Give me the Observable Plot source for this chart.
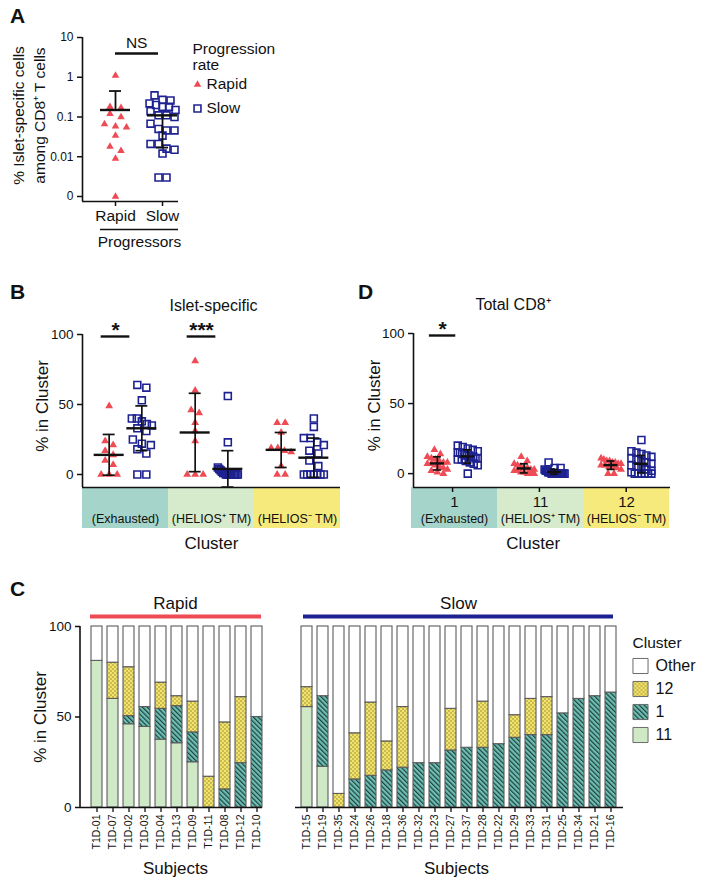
<!DOCTYPE html>
<html>
<head>
<meta charset="utf-8">
<script src="https://cdn.jsdelivr.net/npm/d3@7"></script>
<script src="https://cdn.jsdelivr.net/npm/@observablehq/plot@0.6"></script>
<style>
html,body{margin:0;padding:0;background:#fff;}
#root{position:relative;width:703px;height:886px;overflow:hidden;background:#fff;font-family:"Liberation Sans",Arial,Helvetica,sans-serif;color:#111;}
.plbl{position:absolute;font-weight:bold;font-size:21px;line-height:1;font-family:"Liberation Sans",Arial,sans-serif;}
</style>
</head>
<body>
<svg width="0" height="0" style="position:absolute">
<defs>
<pattern id="pat1" patternUnits="userSpaceOnUse" width="3.4" height="3.4" patternTransform="rotate(-45)">
<rect width="3.4" height="3.4" fill="#6dbfb3"/>
<rect x="0" y="0" width="1.2" height="3.4" fill="#1f403c"/>
</pattern>
<pattern id="pat12" patternUnits="userSpaceOnUse" width="4" height="4">
<rect width="4" height="4" fill="#f3e366"/>
<circle cx="1" cy="1" r="0.75" fill="#857a3a"/>
<circle cx="3" cy="3" r="0.75" fill="#857a3a"/>
</pattern>
</defs>
</svg>
<div id="root">
<div class="plbl" style="left:10px;top:5px">A</div>
<div class="plbl" style="left:10px;top:281px">B</div>
<div class="plbl" style="left:358px;top:281px">D</div>
<div class="plbl" style="left:10px;top:578px">C</div>
</div>
<script>
// ================= DATA =================
// Panel A
const groupsA = ["Rapid", "Slow"];
const aRapid = [1.1, 0.17, 0.18, 0.12, 0.1, 0.066, 0.058, 0.055, 0.034, 0.018, 0.014, 0.009, 0];
const aSlow = [0.35, 0.27, 0.26, 0.22, 0.2, 0.18, 0.18, 0.15, 0.14, 0.11, 0.11, 0.1, 0.068, 0.05, 0.046, 0.046, 0.034, 0.021, 0.021, 0.016, 0.015, 0.012, 0.003, 0.003];
const aMean = [0.15, 0.11];
const aUpper = [0.45, null];
const aLower = [null, 0.017];
const aTickValues = [10, 1, 0.1, 0.01, 0];
const aTickLabels = ["10", "1", "0.1", "0.01", "0"];

// Panels B and D
const clusters = ["1", "11", "12"];
const clusterNames = ["(Exhausted)", "(HELIOS\u207A TM)", "(HELIOS\u207B TM)"];
const clusterBand = ["#a5d5ca", "#d5ebcb", "#f7ea7c"];

const bRapid = [[49, 24, 21, 17, 14, 10, 7, 0, 0, 0], [81, 60, 46, 44, 37, 31, 24, 0, 0, 0], [37, 37, 30, 19, 19, 17, 16, 6, 0, 0]];
const bSlow = [[64, 62, 53, 40, 40, 38, 36, 35, 33, 31, 25, 22, 21, 18, 15, 0, 0], [56, 23, 5, 4, 3, 2, 1, 1, 0, 0, 0, 0, 0, 0, 0, 0, 0, 0], [40, 34, 26, 26, 23, 21, 17, 15, 10, 6, 0, 0, 0, 0, 0, 0, 0]];
const bRapidMean = [14, 30, 17.6], bRapidUpper = [28.6, 58, 30], bRapidLower = [-0.5, 2, 5];
const bSlowMean = [33, 4, 12], bSlowUpper = [49, 17, 26], bSlowLower = [17, -9, -2];
const bSigClusters = [0, 1], bSigLabels = ["*", "***"];

const dRapid = [[17, 14, 12, 11, 10, 9, 8, 8, 7, 7, 6, 5, 4, 3, 2, 1, 0], [12, 9, 7, 6, 5, 4, 4, 3, 3, 2, 2, 1, 1, 0, 0, 0], [11, 10, 9, 9, 8, 8, 7, 7, 6, 6, 5, 5, 4, 3, 0, 0]];
const dSlow = [[20, 19, 18, 17, 16, 15, 15, 14, 14, 13, 13, 12, 12, 11, 11, 10, 10, 9, 8, 7, 6, 0], [8, 4, 4, 3, 2, 2, 1, 1, 1, 0, 0, 0, 0, 0, 0, 0, 0, 0, 0, 0, 0], [24, 16, 15, 14, 13, 12, 11, 10, 9, 8, 7, 6, 5, 4, 3, 2, 1, 0, 0, 0, 0, 0, 0]];
const dRapidMean = [7.3, 3.7, 6.1], dRapidUpper = [12, 7, 9], dRapidLower = [2.6, 0.5, 3];
const dSlowMean = [12.3, 1.2, 7], dSlowUpper = [17, 3, 13], dSlowLower = [7.5, -0.5, 0.5];
const dSigClusters = [0], dSigLabels = ["*"];

// Panel C
const subjRapid = ["T1D-01", "T1D-07", "T1D-02", "T1D-03", "T1D-04", "T1D-13", "T1D-09", "T1D-11", "T1D-08", "T1D-12", "T1D-10"];
const rapidC11 = [81, 60, 46, 44.5, 37.5, 35.5, 25, 0, 0, 0, 0];
const rapidC1 = [0, 0, 4.5, 11, 17, 20.5, 16.5, 0, 10, 24.5, 50];
const rapidC12 = [0, 20, 27, 0, 14.5, 5.5, 17, 17, 37, 36.5, 0];
const subjSlow = ["T1D-15", "T1D-19", "T1D-35", "T1D-24", "T1D-26", "T1D-18", "T1D-36", "T1D-32", "T1D-23", "T1D-27", "T1D-37", "T1D-28", "T1D-22", "T1D-29", "T1D-33", "T1D-31", "T1D-25", "T1D-34", "T1D-21", "T1D-16"];
const slowC11 = [55.5, 22.5, 0, 0, 0, 0, 0, 0, 0, 0, 0, 0, 0, 0, 0, 0, 0, 0, 0, 0];
const slowC1 = [0, 39, 0, 15.5, 17.5, 20.5, 22, 24.5, 24.5, 31.5, 33, 33, 35, 38.5, 40, 40, 52, 60, 61.5, 63.5];
const slowC12 = [11, 0, 7.5, 25.5, 40.5, 16, 33.5, 0, 0, 23, 0, 25.5, 0, 12.5, 20, 21, 0, 0, 0, 0];
const legendItems = ["Other", "12", "1", "11"];
const stackOrder = ["11", "1", "12", "Other"];
const clusterFill = ["#ffffff", "url(#pat12)", "url(#pat1)", "#cfe8c6"];

// ================= HELPERS =================
const RED = "#ee4b55", NAVY = "#1e2291", INK = "#111";
const FONT = "'Liberation Sans', Arial, Helvetica, sans-serif";
const STYLE = `background: transparent; overflow: visible; font-family: ${FONT}; font-size: 13px; color: ${INK};`;
const root = document.getElementById("root");
function place(el, left, top) {
  el.style.position = "absolute"; el.style.left = left + "px"; el.style.top = top + "px";
  root.appendChild(el);
}
// symmetric row dodge (GraphPad-like scatter), offsets in px
function dodge(ys, pxY, thresh, slot, maxHalf) {
  const order = d3.range(ys.length).sort((a, b) => ys[b] - ys[a]);
  const rows = [];
  for (const i of order) {
    const r = rows[rows.length - 1];
    if (r && (r.top - ys[i]) * pxY < thresh) r.items.push(i);
    else rows.push({top: ys[i], items: [i]});
  }
  const off = ys.map(() => 0);
  for (const r of rows) {
    const n = r.items.length;
    const step = n > 1 ? Math.min(slot, (2 * maxHalf) / (n - 1)) : 0;
    r.items.forEach((i, k) => off[i] = (k - (n - 1) / 2) * step);
  }
  return off;
}
const leftLine = (sw = 1.6) => (index, scales, values, dim) =>
  d3.create("svg:line")
    .attr("x1", dim.marginLeft).attr("x2", dim.marginLeft)
    .attr("y1", dim.marginTop).attr("y2", dim.height - dim.marginBottom)
    .attr("stroke", INK).attr("stroke-width", sw).node();

// ================= PANEL A =================
const lg = v => v === 0 ? -3 : Math.log10(v);
{
  const W = 262, H = 250, ML = 82, MR = 84, MT = 37, MB = 49;
  const xDom = [-0.702, 1.34], yDom = [-3.126, 1];
  const pxX = (W - ML - MR) / (xDom[1] - xDom[0]), pxY = (H - MT - MB) / (yDom[1] - yDom[0]);
  const tri = aRapid.map(lg), sq = aSlow.map(lg);
  const triOff = dodge(tri, pxY, 6, 11, 14), sqOff = dodge(sq, pxY, 7, 8, 13);
  const triPts = tri.map((y, i) => ({x: 0 + triOff[i] / pxX, y}));
  const sqPts = sq.map((y, i) => ({x: 1 + sqOff[i] / pxX, y}));
  const means = aMean.map((m, g) => ({y: lg(m), x1: g - 15 / pxX, x2: g + 15 / pxX}));
  const errs = [], caps = [];
  [aUpper, aLower].forEach(arr => arr.forEach((e, g) => {
    if (e == null) return;
    errs.push({x: g, y1: lg(aMean[g]), y2: lg(e)});
    caps.push({y: lg(e), x1: g - 6 / pxX, x2: g + 6 / pxX});
  }));
  const tickPos = aTickValues.map(lg);
  const brX1 = 0 - 15 / pxX, brX2 = xDom[1];
  const svg = Plot.plot({
    width: W, height: H, marginLeft: ML, marginRight: MR, marginTop: MT, marginBottom: MB,
    style: STYLE,
    x: {domain: xDom, label: null},
    y: {domain: yDom, label: null},
    marks: [
      Plot.ruleX([xDom[0]], {strokeWidth: 1.6}),
      Plot.ruleY([yDom[0]], {strokeWidth: 1.6}),
      Plot.axisY({ticks: tickPos, tickFormat: d => aTickLabels[tickPos.indexOf(d)], tickSize: 5, fontSize: 12, label: null, strokeWidth: 1.5}),
      Plot.axisX({ticks: [0, 1], tickFormat: i => groupsA[i], tickSize: 5, tickPadding: 3, fontSize: 15.5, label: null, strokeWidth: 1.5}),
      Plot.dot(triPts, {x: "x", y: "y", symbol: "triangle", fill: RED, r: 2.8}),
      Plot.dot(sqPts, {x: "x", y: "y", symbol: "square", stroke: NAVY, fill: "none", r: 3.9, strokeWidth: 1.6}),
      Plot.ruleX(errs, {x: "x", y1: "y1", y2: "y2", strokeWidth: 1.8}),
      Plot.ruleY(caps, {y: "y", x1: "x1", x2: "x2", strokeWidth: 1.8}),
      Plot.ruleY(means, {y: "y", x1: "x1", x2: "x2", strokeWidth: 2.4}),
      Plot.ruleY([yDom[1]], {x1: 0, x2: 1, insetRight: 4, dy: 16, strokeWidth: 2.4}),
      Plot.text(["NS"], {x: 0.45, y: yDom[1], dy: 6, fontSize: 15.5}),
      Plot.ruleY([yDom[0]], {x1: brX1, x2: brX2, dy: 28, strokeWidth: 1.5}),
      Plot.text(["Progressors"], {x: (brX1 + brX2) / 2, y: yDom[0], dy: 41, fontSize: 15.5}),
      Plot.text(["% Islet-specific cells\namong CD8\u207A T cells"], {frameAnchor: "left", textAnchor: "middle", dx: -55, dy: -4, rotate: -90, fontSize: 15.5, lineHeight: 1.35}),
      Plot.text(["Progression\nrate"], {frameAnchor: "top-right", dx: 14, dy: 5, textAnchor: "start", lineAnchor: "top", lineHeight: 1.05, fontSize: 15.5}),
      Plot.dot([0], {frameAnchor: "top-right", dx: 19, dy: 47, symbol: "triangle", fill: RED, r: 2.8}),
      Plot.text(["Rapid"], {frameAnchor: "top-right", dx: 28, dy: 47, textAnchor: "start", lineAnchor: "middle", fontSize: 15.5}),
      Plot.dot([0], {frameAnchor: "top-right", dx: 19, dy: 71, symbol: "square", stroke: NAVY, fill: "none", r: 3.9, strokeWidth: 1.6}),
      Plot.text(["Slow"], {frameAnchor: "top-right", dx: 28, dy: 71, textAnchor: "start", lineAnchor: "middle", fontSize: 15.5})
    ]
  });
  place(svg, 0, 0);
}

// ================= PANELS B & D =================
function clusterStrip(o) {
  return Plot.plot({
    width: o.W, height: o.H, marginLeft: o.ML, marginRight: o.MR, marginTop: 0, marginBottom: o.MB,
    style: STYLE,
    x: {domain: clusters, padding: 0, axis: null},
    color: {domain: clusters, range: clusterBand},
    marks: [
      Plot.cell(clusters, {x: d => d, fill: d => d}),
      o.numbers ? Plot.text(clusters, {x: d => d, frameAnchor: "top", lineAnchor: "middle", dy: 15, fontSize: 15}) : null,
      Plot.text(clusters, {x: d => d, text: (d, i) => clusterNames[i], frameAnchor: "bottom", lineAnchor: "middle", dy: -10, fontSize: 12.5}),
      Plot.text(["Cluster"], {frameAnchor: "bottom", lineAnchor: "middle", dy: 15, dx: o.labDx || 0, fontSize: 17})
    ].filter(Boolean)
  });
}
function clusterScatter(o) {
  const {W, H, ML, MR, MT, MB, xDom, yDom, rOff, sOff} = o;
  const pxX = (W - ML - MR) / (xDom[1] - xDom[0]), pxY = (H - MT - MB) / (yDom[1] - yDom[0]);
  const tri = [], sq = [], means = [], errs = [], caps = [];
  clusters.forEach((c, ci) => {
    const pr = ci + rOff, ps = ci + sOff;
    const ro = dodge(o.rapid[ci], pxY, 6, o.triSlot, o.maxHalf);
    o.rapid[ci].forEach((v, i) => tri.push({x: pr + ro[i] / pxX, y: v}));
    const so = dodge(o.slow[ci], pxY, 7, o.sqSlot, o.maxHalf);
    o.slow[ci].forEach((v, i) => sq.push({x: ps + so[i] / pxX, y: v}));
    [[pr, o.rMean[ci], o.rUp[ci], o.rLo[ci]], [ps, o.sMean[ci], o.sUp[ci], o.sLo[ci]]].forEach(([p, m, u, l]) => {
      means.push({y: m, x1: p - o.meanHalf / pxX, x2: p + o.meanHalf / pxX});
      for (const e of [u, l]) {
        errs.push({x: p, y1: m, y2: Math.max(e, yDom[0])});
        if (e >= yDom[0]) caps.push({y: e, x1: p - o.capHalf / pxX, x2: p + o.capHalf / pxX});
      }
    });
  });
  const sig = o.sigClusters.map((ci, k) => ({x1: ci + rOff - 8 / pxX, x2: ci + sOff - 12 / pxX, label: o.sigLabels[k]}));
  return Plot.plot({
    width: W, height: H, marginLeft: ML, marginRight: MR, marginTop: MT, marginBottom: MB,
    style: STYLE,
    x: {domain: xDom, label: null, axis: o.xTicks ? undefined : null},
    y: {domain: yDom, label: null},
    marks: [
      Plot.ruleX([xDom[0]], {strokeWidth: 1.6}),
      Plot.ruleY([yDom[0]], {strokeWidth: 1.6}),
      Plot.axisY({ticks: [0, 50, 100], tickSize: 5, fontSize: 13.5, label: null, strokeWidth: 1.5}),
      o.xTicks ? Plot.axisX({ticks: [0, 1, 2], tickSize: 5, tickFormat: () => "", label: null, strokeWidth: 1.5}) : null,
      Plot.dot(tri, {x: "x", y: "y", symbol: "triangle", fill: RED, r: 2.9}),
      Plot.dot(sq, {x: "x", y: "y", symbol: "square", stroke: NAVY, fill: "none", r: 3.9, strokeWidth: 1.6}),
      Plot.ruleX(errs, {x: "x", y1: "y1", y2: "y2", strokeWidth: 1.7}),
      Plot.ruleY(caps, {y: "y", x1: "x1", x2: "x2", strokeWidth: 1.7}),
      Plot.ruleY(means, {y: "y", x1: "x1", x2: "x2", strokeWidth: 2.4}),
      Plot.ruleY(sig, {y: yDom[1], x1: "x1", x2: "x2", dy: 2, strokeWidth: 2.4}),
      Plot.text(sig, {x: d => (d.x1 + d.x2) / 2, y: yDom[1], text: "label", dy: -4, fontSize: 21, fontWeight: "bold"}),
      Plot.text([o.title], {frameAnchor: "top", lineAnchor: "middle", dy: -29, dx: o.titleDx, fontSize: 16}),
      Plot.text(["% in Cluster"], {frameAnchor: "left", textAnchor: "middle", dx: o.ylabDx, dy: -5, rotate: -90, fontSize: 17})
    ].filter(Boolean)
  });
}
place(clusterStrip({W: 350, H: 69, ML: 82, MR: 10, MB: 28, numbers: false}), 0, 487);
place(clusterStrip({W: 350, H: 69, ML: 80, MR: 10.7, MB: 28, numbers: true, labDx: -7}), 330, 487);
place(clusterScatter({
  W: 350, H: 204, ML: 82, MR: 10, MT: 49, MB: 2, xDom: [-0.5, 2.5], yDom: [-9.3, 100], rOff: -0.19, sOff: 0.19,
  rapid: bRapid, slow: bSlow, rMean: bRapidMean, rUp: bRapidUpper, rLo: bRapidLower,
  sMean: bSlowMean, sUp: bSlowUpper, sLo: bSlowLower, sigClusters: bSigClusters, sigLabels: bSigLabels,
  triSlot: 8, sqSlot: 9, maxHalf: 10, meanHalf: 15, capHalf: 6, title: "Islet-specific", titleDx: 2, ylabDx: -40, xTicks: false
}), 0, 285);
place(clusterScatter({
  W: 350, H: 204, ML: 83, MR: 10, MT: 48, MB: 2, xDom: [-0.45, 2.51], yDom: [-9.9, 100], rOff: -0.175, sOff: 0.175,
  rapid: dRapid, slow: dSlow, rMean: dRapidMean, rUp: dRapidUpper, rLo: dRapidLower,
  sMean: dSlowMean, sUp: dSlowUpper, sLo: dSlowLower, sigClusters: dSigClusters, sigLabels: dSigLabels,
  triSlot: 6, sqSlot: 6, maxHalf: 10, meanHalf: 7, capHalf: 4, title: "Total CD8\u207A", titleDx: -29, ylabDx: -39, xTicks: true
}), 330, 285);

// ================= PANEL C =================
function stackData(subjects, v11, v1, v12) {
  const out = [];
  subjects.forEach((s, i) => {
    out.push({subject: s, cluster: "11", value: v11[i]});
    out.push({subject: s, cluster: "1", value: v1[i]});
    out.push({subject: s, cluster: "12", value: v12[i]});
    out.push({subject: s, cluster: "Other", value: 100 - v11[i] - v1[i] - v12[i]});
  });
  return out;
}
function stackPanel(o) {
  return Plot.plot({
    width: o.W, height: 306, marginLeft: o.ML, marginRight: o.MR, marginTop: 46, marginBottom: 79,
    style: STYLE,
    x: {domain: o.subjects, paddingInner: 0.32, paddingOuter: o.po, align: o.align, label: null},
    y: {domain: [0, 100], label: null, axis: o.yAxis ? undefined : null},
    color: {domain: legendItems, range: clusterFill},
    marks: [
      Plot.barY(o.data, {x: "subject", y: "value", z: "cluster", fill: "cluster", order: stackOrder, stroke: "#5c5c5c", strokeWidth: 1.1}),
      Plot.ruleY([0], {strokeWidth: 1.6}),
      o.yAxis ? leftLine(1.6) : null,
      o.yAxis ? Plot.axisY({ticks: [0, 50, 100], tickSize: 5, fontSize: 13.5, label: null, strokeWidth: 1.5}) : null,
      Plot.axisX({tickSize: 5, tickRotate: -90, tickPadding: 2, fontSize: 10.5, label: null, strokeWidth: 1.3}),
      Plot.ruleY([100], {dy: -10, stroke: o.color, strokeWidth: 4, insetLeft: o.insL, insetRight: o.insR}),
      Plot.text([o.title], {frameAnchor: "top", lineAnchor: "middle", dy: -23, dx: o.titleDx, fontSize: 17}),
      Plot.text(["Subjects"], {frameAnchor: "bottom", lineAnchor: "middle", dy: 61, dx: o.subDx, fontSize: 17}),
      o.yAxis ? Plot.text(["% in Cluster"], {frameAnchor: "left", textAnchor: "middle", dx: -40, rotate: -90, fontSize: 17}) : null
    ].filter(Boolean)
  });
}
place(stackPanel({W: 270, ML: 80, MR: 8, subjects: subjRapid, data: stackData(subjRapid, rapidC11, rapidC1, rapidC12),
  po: 0.26, align: 1, yAxis: true, color: RED, insL: 10, insR: 1, title: "Rapid", titleDx: 4, subDx: 4}), 0, 580);
place(stackPanel({W: 345, ML: 5, MR: 12, subjects: subjSlow, data: stackData(subjSlow, slowC11, slowC1, slowC12),
  po: 0.378, align: 0.42, yAxis: false, color: NAVY, insL: 8, insR: 10, title: "Slow", titleDx: -1, subDx: -3}), 290, 580);
// legend
place(Plot.plot({
  width: 71, height: 120, marginLeft: 0, marginRight: 0, marginTop: 24, marginBottom: 4,
  style: STYLE,
  y: {type: "band", domain: legendItems, padding: 0, axis: null},
  color: {domain: legendItems, range: clusterFill},
  marks: [
    Plot.dot(legendItems, {y: d => d, fill: d => d, symbol: "square", r: 8.5, stroke: "#6b6b6b", strokeWidth: 1, frameAnchor: "left", dx: 8}),
    Plot.text(legendItems, {y: d => d, text: d => d, frameAnchor: "left", dx: 23, textAnchor: "start", lineAnchor: "middle", fontSize: 16}),
    Plot.text(["Cluster"], {frameAnchor: "top-left", dy: -11, textAnchor: "start", lineAnchor: "middle", fontSize: 15.5})
  ]
}), 632, 630);
</script>
</body>
</html>
